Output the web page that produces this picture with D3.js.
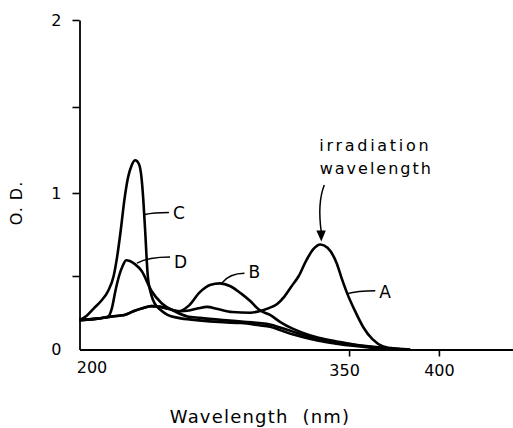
<!DOCTYPE html>
<html>
<head>
<meta charset="utf-8">
<script src="https://cdn.jsdelivr.net/npm/d3@7"></script>
<style>
  body { margin: 0; background: #fff; }
  svg { display: block; font-family: "DejaVu Sans", sans-serif; }
</style>
</head>
<body>
<svg id="chart" width="513" height="428"></svg>
<script>
// spectra (wavelength nm, O.D.)
const wlA = [200, 210, 218, 225, 230, 235, 240, 245, 250, 256, 261, 266, 271, 277, 285, 295, 300, 305, 310, 314, 318, 322, 326, 330, 334, 338, 343, 346, 349, 353, 358, 363, 369, 376, 384]
const odA = [0.2, 0.21, 0.225, 0.235, 0.26, 0.28, 0.295, 0.29, 0.275, 0.26, 0.265, 0.28, 0.29, 0.275, 0.255, 0.25, 0.26, 0.28, 0.31, 0.36, 0.43, 0.5, 0.59, 0.66, 0.69, 0.67, 0.58, 0.48, 0.38, 0.27, 0.15, 0.07, 0.02, 0.005, 0]

const wlB = [200, 210, 218, 225, 230, 235, 240, 245, 250, 255, 261, 267, 273, 278, 284, 290, 295, 300, 306, 312, 318, 324, 333, 343, 352, 362, 372, 384]
const odB = [0.2, 0.21, 0.225, 0.235, 0.26, 0.28, 0.295, 0.29, 0.275, 0.26, 0.3, 0.39, 0.44, 0.45, 0.43, 0.38, 0.33, 0.27, 0.235, 0.185, 0.145, 0.115, 0.08, 0.055, 0.035, 0.02, 0.008, 0]

const wlC = [200, 204, 208, 212, 216, 219, 221, 223, 225, 227, 229, 231, 233, 234.5, 235.5, 236.5, 238, 240, 242, 245, 249, 255, 265, 280, 290, 300, 306, 312, 318, 324, 333, 343, 352, 362, 372, 382]
const odC = [0.2, 0.23, 0.28, 0.33, 0.4, 0.5, 0.62, 0.78, 0.96, 1.09, 1.16, 1.19, 1.17, 1.09, 0.96, 0.78, 0.5, 0.37, 0.31, 0.27, 0.235, 0.215, 0.2, 0.185, 0.18, 0.165, 0.155, 0.13, 0.105, 0.085, 0.06, 0.04, 0.025, 0.012, 0.004, 0]

const wlD = [200, 210, 216, 218, 220, 222, 224, 226, 228, 231, 234.6, 240, 245.7, 253, 260, 267, 280, 290, 300, 306, 312, 318, 324, 333, 343, 352, 362, 372, 382]
const odD = [0.2, 0.21, 0.225, 0.28, 0.4, 0.5, 0.56, 0.595, 0.59, 0.57, 0.53, 0.4, 0.315, 0.26, 0.225, 0.215, 0.2, 0.19, 0.18, 0.17, 0.148, 0.125, 0.1, 0.07, 0.05, 0.032, 0.018, 0.006, 0]

const seriesNames = ["A", "B", "C", "D"]
// where each letter's leader line touches its curve (nm, O.D.)
const labelAnchors = [[349, 0.38], [279, 0.45], [236.4, 0.87], [232, 0.578]]

const xTicks = [200, 350, 400]
const yTicks = [0, 0.5, 1, 1.5, 2]
const yTickLabels = ["0", "", "1", "", "2"]

const series = [
  {name: "A", wl: wlA, od: odA},
  {name: "B", wl: wlB, od: odB},
  {name: "C", wl: wlC, od: odC},
  {name: "D", wl: wlD, od: odD},
]

const svg = d3.select("#chart")

const x = d3.scaleLinear().domain([200, 441.5]).range([79.5, 513.5])
// the printed axis is not evenly spaced, so map through its own tick marks
const y = d3.scaleLinear().domain(yTicks).range([349.5, 276, 193, 107, 20])

const line = d3.line()
  .x(d => x(d[0]))
  .y(d => y(d[1]))
  .curve(d3.curveMonotoneX)

svg.append("g")
  .selectAll("path")
  .data(series)
  .join("path")
  .attr("d", s => line(d3.zip(s.wl, s.od)))
  .attr("fill", "none")
  .attr("stroke", "#000")
  .attr("stroke-width", 2.6)
  .attr("stroke-linejoin", "round")

// axes
const xAxis = svg.append("g")
  .attr("transform", `translate(0,${y(0)})`)
  .call(d3.axisBottom(x).tickValues(xTicks).tickSize(7).tickSizeOuter(0).tickPadding(8))
const yAxis = svg.append("g")
  .attr("transform", `translate(${x(200)},0)`)
  .call(d3.axisLeft(y).tickValues(yTicks).tickSize(7).tickSizeOuter(0).tickPadding(11)
    .tickFormat((d, i) => yTickLabels[i]))

for (const ax of [xAxis, yAxis]) {
  ax.select(".domain").attr("stroke-width", 1.8)
  ax.selectAll(".tick line").attr("stroke-width", 1.6)
  ax.selectAll("text").attr("font-size", 16).attr("font-family", "DejaVu Sans").attr("fill", "#000")
}
xAxis.selectAll(".tick").filter(d => d === 200).select("line").remove()
xAxis.selectAll(".tick").filter(d => d === 200).select("text").attr("dx", 12).attr("dy", "0.55em")
xAxis.selectAll(".tick").filter(d => d === 350).select("text").attr("dx", -5)
yAxis.selectAll(".tick").filter(d => d === 0).select("line").remove()

// curve letters with leader lines: [leader dx, leader dy, text dy]
const labelOffs = {A: [28, -3, 1], B: [23, -10, -1.5], C: [24, -2, 0], D: [33, -6, 4.5]}
const labels = svg.append("g")
series.forEach((s, i) => {
  const [nm, val] = labelAnchors[i]
  const px = x(nm), py = y(val)
  const offs = labelOffs[s.name]
  const ex = px + offs[0], ey = py + offs[1]
  labels.append("path")
    .attr("d", `M${px},${py} Q${px + offs[0] * 0.35},${ey} ${ex},${ey}`)
    .attr("fill", "none").attr("stroke", "#000").attr("stroke-width", 1.5)
  labels.append("text")
    .attr("x", ex + 4).attr("y", ey + offs[2])
    .attr("dy", "0.36em")
    .attr("font-size", 17)
    .text(s.name)
})

// irradiation wavelength annotation
const peakX = x(334), peakY = y(0.69)
const note = svg.append("g").attr("font-size", 16).attr("text-anchor", "middle")
note.append("text").attr("x", peakX + 55).attr("y", 151).attr("letter-spacing", 2.7).text("irradiation")
note.append("text").attr("x", peakX + 56).attr("y", 174).attr("letter-spacing", 2).text("wavelength")
note.append("path")
  .attr("d", `M${peakX + 4},${185} C${peakX - 2},${200} ${peakX - 1},${218} ${peakX + 1},${peakY - 12}`)
  .attr("fill", "none").attr("stroke", "#000").attr("stroke-width", 1.5)
note.append("path")
  .attr("d", `M${peakX - 4},${peakY - 14} L${peakX + 5.5},${peakY - 14} L${peakX + 1},${peakY - 3} Z`)
  .attr("fill", "#000")

// axis titles
svg.append("text")
  .attr("transform", `translate(22,${203}) rotate(-90)`)
  .attr("text-anchor", "middle")
  .attr("font-size", 16)
  .attr("letter-spacing", 1)
  .text("O. D.")
svg.append("text")
  .attr("x", 260).attr("y", 423)
  .attr("text-anchor", "middle")
  .attr("font-size", 18)
  .attr("letter-spacing", 1.2)
  .attr("xml:space", "preserve")
  .style("white-space", "pre")
  .text("Wavelength  (nm)")
</script>
</body>
</html>
